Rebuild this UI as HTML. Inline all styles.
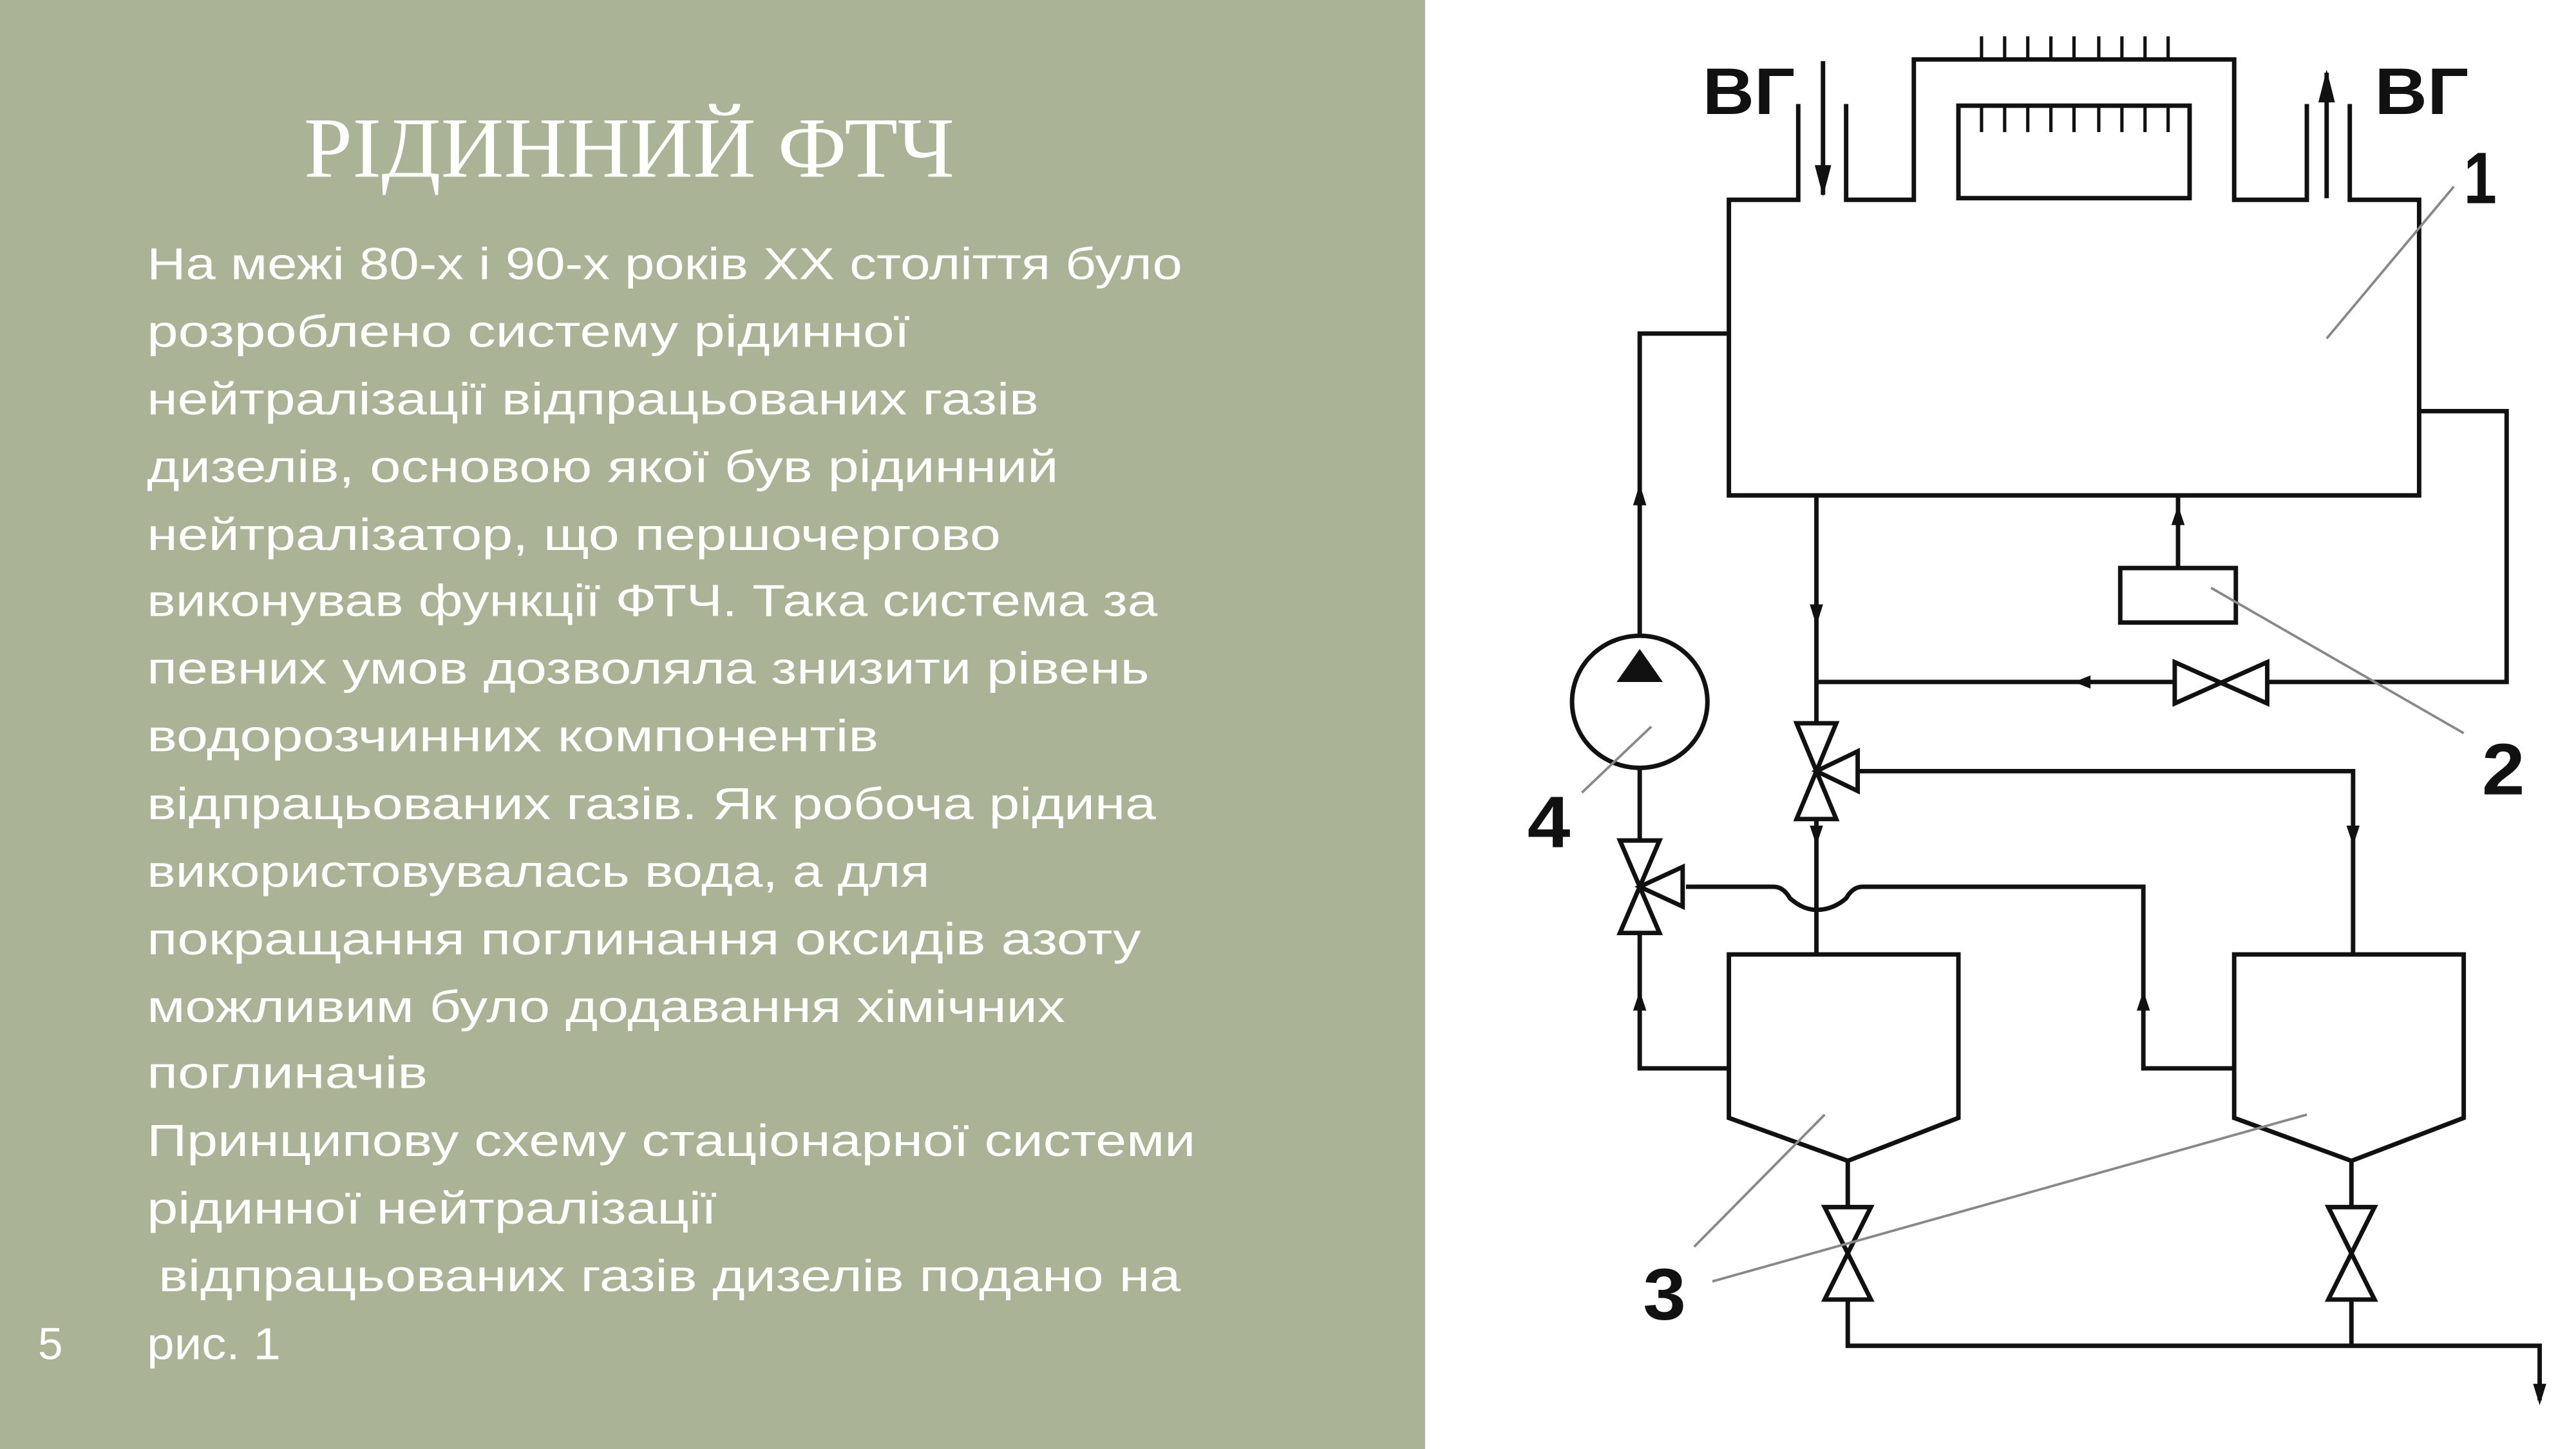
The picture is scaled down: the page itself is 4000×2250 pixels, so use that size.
<!DOCTYPE html>
<html><head><meta charset="utf-8"><style>html,body{margin:0;padding:0;background:#fff}svg{display:block}</style></head>
<body>
<svg xmlns="http://www.w3.org/2000/svg" width="4000" height="2250" viewBox="0 0 1560 877.5">
<rect x="0" y="0" width="1560" height="877.5" fill="#fff"/>
<rect x="0" y="0" width="863" height="877.5" fill="#abb396"/>
<g fill="#fff" font-family="'Liberation Serif', serif">
<text x="184" y="107" font-size="52" textLength="394" lengthAdjust="spacingAndGlyphs">РІДИННИЙ ФТЧ</text>
</g>
<g fill="#fff" font-family="'Liberation Sans', sans-serif" font-size="27">
<text x="89" y="169" textLength="627" lengthAdjust="spacingAndGlyphs">На межі 80-х і 90-х років XX століття було</text>
<text x="89" y="210" textLength="462" lengthAdjust="spacingAndGlyphs">розроблено систему рідинної</text>
<text x="89" y="251" textLength="540" lengthAdjust="spacingAndGlyphs">нейтралізації відпрацьованих газів</text>
<text x="89" y="292" textLength="552" lengthAdjust="spacingAndGlyphs">дизелів, основою якої був рідинний</text>
<text x="89" y="333" textLength="517" lengthAdjust="spacingAndGlyphs">нейтралізатор, що першочергово</text>
<text x="89" y="373" textLength="612" lengthAdjust="spacingAndGlyphs">виконував функції ФТЧ. Така система за</text>
<text x="89" y="414" textLength="607" lengthAdjust="spacingAndGlyphs">певних умов дозволяла знизити рівень</text>
<text x="89" y="455" textLength="443" lengthAdjust="spacingAndGlyphs">водорозчинних компонентів</text>
<text x="89" y="496" textLength="611" lengthAdjust="spacingAndGlyphs">відпрацьованих газів. Як робоча рідина</text>
<text x="89" y="537" textLength="474" lengthAdjust="spacingAndGlyphs">використовувалась вода, а для</text>
<text x="89" y="578" textLength="602" lengthAdjust="spacingAndGlyphs">покращання поглинання оксидів азоту</text>
<text x="89" y="619" textLength="556" lengthAdjust="spacingAndGlyphs">можливим було додавання хімічних</text>
<text x="89" y="659" textLength="170" lengthAdjust="spacingAndGlyphs">поглиначів</text>
<text x="89" y="700" textLength="635" lengthAdjust="spacingAndGlyphs">Принципову схему стаціонарної системи</text>
<text x="89" y="741" textLength="345" lengthAdjust="spacingAndGlyphs">рідинної нейтралізації</text>
<text x="96" y="782" textLength="619" lengthAdjust="spacingAndGlyphs">відпрацьованих газів дизелів подано на</text>
<text x="89" y="823" textLength="81" lengthAdjust="spacingAndGlyphs">рис. 1</text>
<text x="23" y="823">5</text>
</g>

<g stroke="#111" stroke-width="2.7" fill="none" stroke-linejoin="miter">
<path d="M1089,63 V121 H1047 V300 H1465 V121 H1423 V63"/>
<path d="M1118,63 V121 H1159 V36 H1353 V121 H1397 V63"/>
<rect x="1186" y="64" width="140" height="56"/>
<path stroke-width="2" d="M1200,22V36 M1214,22V36 M1228,22V36 M1242,22V36 M1256,22V36 M1271,22V36 M1285,22V36 M1299,22V36 M1313,22V36"/>
<path stroke-width="2" d="M1200,64V80 M1214,64V80 M1228,64V80 M1242,64V80 M1256,64V80 M1271,64V80 M1285,64V80 M1299,64V80 M1313,64V80"/>
<path d="M1104,37V118"/>
<path d="M1409,120V44"/>
<path d="M1047,202 H993 V386"/>
<path d="M1465,249 H1518 V413 H1373"/>
<path d="M1317,413 H1100"/>
<path d="M1100,300 V440"/>
<rect x="1284" y="344" width="70" height="33"/>
<path d="M1319,344 V300"/>
<ellipse cx="993" cy="425" rx="41" ry="40"/>
<path d="M993,465 V509"/>
<path d="M1125,467 H1425 V578"/>
<path d="M1100,497 V578"/>
<path d="M1021,537 H1074 Q1080,537 1084,544 Q1092,551 1100,551 Q1110,551 1118,544 Q1122,537 1128,537 H1298 V647 H1353"/>
<path d="M993,565 V647 H1047"/>
<path d="M1047,578 H1186 V677 L1119,703 L1047,677 Z"/>
<path d="M1353,578 H1492 V677 L1424,703 L1353,677 Z"/>
<path d="M1119,703 V731 M1424,703 V731"/>
<path d="M1119,787 V815 H1538 V848 M1424,787 V815"/>
<path d="M1317,401 V426 L1373,401 V426 Z" fill="#fff"/>
<path d="M1088,438 H1112 L1088,496 H1112 Z" fill="#fff"/>
<path d="M1100,467 L1125,455 V479 Z" fill="#fff"/>
<path d="M981,509 H1005 L981,565 H1005 Z" fill="#fff"/>
<path d="M993,537 L1019,525 V549 Z" fill="#fff"/>
<path d="M1105,731 H1133 L1105,787 H1133 Z" fill="#fff"/>
<path d="M1410,731 H1438 L1410,787 H1438 Z" fill="#fff"/>
</g>
<g fill="#111">
<path d="M1099,100 L1109,100 L1104,119 Z"/>
<path d="M1404,62 L1414,62 L1409,42 Z"/>
<path d="M989,306 L997,306 L993,293 Z"/>
<path d="M1096,366 L1104,366 L1100,379 Z"/>
<path d="M1266,409 L1266,417 L1256,413 Z"/>
<path d="M1315,318 L1323,318 L1319,306 Z"/>
<path d="M1096,500 L1104,500 L1100,512 Z"/>
<path d="M1421,500 L1429,500 L1425,512 Z"/>
<path d="M989,612 L997,612 L993,600 Z"/>
<path d="M1294,612 L1302,612 L1298,600 Z"/>
<path d="M1534,838 L1542,838 L1538,851 Z"/>
<path d="M979,413 L1007,413 L993,393 Z"/>
</g>
<g stroke="#888" stroke-width="1.5">
<path d="M1486,113 L1409,205"/>
<path d="M1339,356 L1492,444"/>
<path d="M958,480 L1000,440"/>
<path d="M1026,755 L1105,675"/>
<path d="M1037,776 L1397,675"/>
</g>
<g fill="#111" font-family="'Liberation Sans', sans-serif" font-size="40" font-weight="bold">
<text x="1031" y="69" textLength="56" lengthAdjust="spacingAndGlyphs">ВГ</text>
<text x="1438" y="69" textLength="57" lengthAdjust="spacingAndGlyphs">ВГ</text>
<text x="1492" y="123" font-size="44" textLength="20" lengthAdjust="spacingAndGlyphs">1</text>
<text x="1503" y="481" font-size="44" textLength="26" lengthAdjust="spacingAndGlyphs">2</text>
<text x="925" y="513" font-size="44" textLength="26" lengthAdjust="spacingAndGlyphs">4</text>
<text x="995" y="799" font-size="44" textLength="26" lengthAdjust="spacingAndGlyphs">3</text>
</g>
</svg>
</body></html>
